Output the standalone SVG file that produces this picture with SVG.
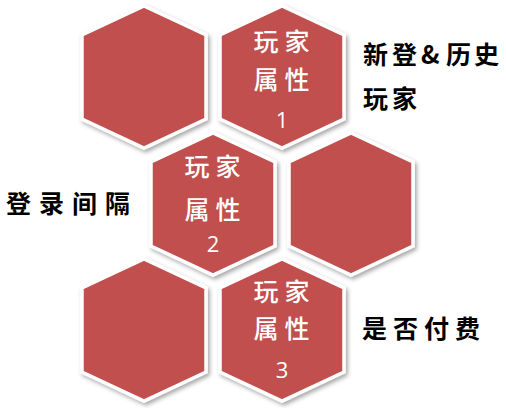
<svg xmlns="http://www.w3.org/2000/svg" xmlns:xlink="http://www.w3.org/1999/xlink" width="506" height="408" viewBox="0 0 506 408">
  <style>
    .hex { fill: #C0504D; stroke: #FFFFFF; stroke-width: 3.5; stroke-linejoin: miter; filter: url(#sh); }
    .in { fill: #FFFFFF; font-family: "Noto Sans CJK SC", sans-serif; font-size: 25px; font-weight: 500; text-anchor: middle; }
    .num { fill: #FFFFFF; font-family: "Open Sans", "Liberation Sans", sans-serif; font-size: 22px; text-anchor: middle; }
    .lbl { fill: #000000; font-family: "Noto Sans CJK SC", sans-serif; font-size: 25px; font-weight: bold; }
  </style>
  <defs>
    <filter id="sh" x="-20%" y="-20%" width="140%" height="140%">
      <feDropShadow dx="2" dy="2.5" stdDeviation="2" flood-color="#000000" flood-opacity="0.35"/>
    </filter>
    <polygon id="hexshape" points="0,-71 62,-42 62,42 0,71 -62,42 -62,-42"/>
  </defs>
  <rect width="506" height="408" fill="#FFFFFF"/>
  <g id="connectors"></g>
  <g id="hex-top-left">
    <use xlink:href="#hexshape" class="hex" transform="translate(144,77)"/>
  </g>
  <g id="hex-attr-1">
    <use xlink:href="#hexshape" class="hex" transform="translate(282,77)"/>
    <text class="in" x="266 297" y="51">玩家</text>
    <text class="in" x="266 297" y="89">属性</text>
    <text class="num" x="282" y="128">1</text>
  </g>
  <g id="hex-attr-2">
    <use xlink:href="#hexshape" class="hex" transform="translate(213,204)"/>
    <text class="in" x="197 228" y="176">玩家</text>
    <text class="in" x="197 228" y="219">属性</text>
    <text class="num" x="213" y="252">2</text>
  </g>
  <g id="hex-mid-right">
    <use xlink:href="#hexshape" class="hex" transform="translate(351,204)"/>
  </g>
  <g id="hex-bottom-left">
    <use xlink:href="#hexshape" class="hex" transform="translate(144,330)"/>
  </g>
  <g id="hex-attr-3">
    <use xlink:href="#hexshape" class="hex" transform="translate(282,330)"/>
    <text class="in" x="266 297" y="301">玩家</text>
    <text class="in" x="266 297" y="338">属性</text>
    <text class="num" x="282" y="378">3</text>
  </g>
  <g id="labels">
    <text class="lbl" x="363 392 421 446 474" y="64">新登&amp;历史</text>
    <text class="lbl" x="363 392" y="108">玩家</text>
    <text class="lbl" x="6 39 72 105" y="213">登录间隔</text>
    <text class="lbl" x="362 393 424 455" y="338">是否付费</text>
  </g>
</svg>
